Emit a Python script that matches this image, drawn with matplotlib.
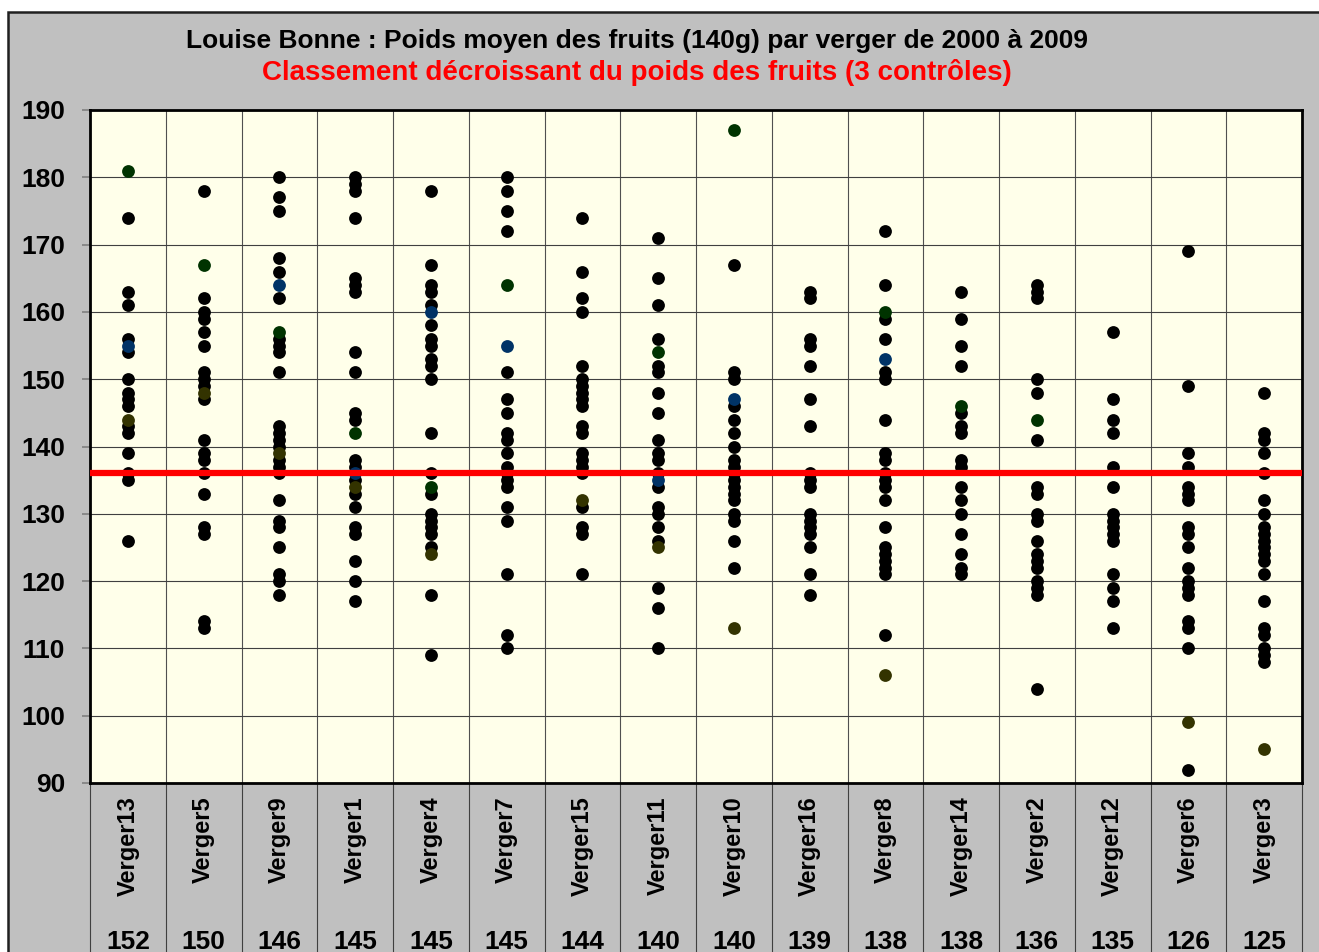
import matplotlib.pyplot as plt
from matplotlib.patches import Rectangle

plt.rcParams['font.family'] = ['Liberation Sans', 'DejaVu Sans']

vergers = ['Verger13', 'Verger5', 'Verger9', 'Verger1', 'Verger4', 'Verger7', 'Verger15', 'Verger11',
           'Verger10', 'Verger16', 'Verger8', 'Verger14', 'Verger2', 'Verger12', 'Verger6', 'Verger3']
moyennes = [152, 150, 146, 145, 145, 145, 144, 140, 140, 139, 138, 138, 136, 135, 126, 125]

# poids des autres années (points noirs)
poids = [
    [174, 163, 161, 156, 154, 150, 148, 147, 146, 143, 142, 139, 136, 135, 126],
    [178, 162, 160, 159, 157, 155, 151, 150, 149, 147, 141, 139, 138, 136, 133, 128, 127, 114, 113],
    [180, 177, 175, 168, 166, 162, 156, 155, 154, 151, 143, 142, 141, 140, 138, 137, 136, 132, 129, 128,
     125, 121, 120, 118],
    [180, 179, 178, 174, 165, 164, 163, 154, 151, 145, 144, 138, 137, 135, 133, 131, 128, 127, 123, 120, 117],
    [178, 167, 164, 163, 161, 158, 156, 155, 153, 152, 150, 142, 136, 133, 130, 129, 128, 127, 125, 118, 109],
    [180, 178, 175, 172, 151, 147, 145, 142, 141, 139, 137, 136, 135, 134, 131, 129, 121, 112, 110],
    [174, 166, 162, 160, 152, 150, 149, 148, 147, 146, 143, 142, 139, 138, 137, 136, 131, 128, 127, 121],
    [171, 165, 161, 156, 152, 151, 148, 145, 141, 139, 138, 136, 134, 131, 130, 128, 126, 119, 116, 110],
    [167, 151, 150, 146, 144, 142, 140, 138, 137, 136, 135, 134, 133, 132, 130, 129, 126, 122],
    [163, 162, 156, 155, 152, 147, 143, 136, 135, 134, 130, 129, 128, 127, 125, 121, 118],
    [172, 164, 159, 156, 151, 150, 144, 139, 138, 136, 135, 134, 132, 128, 125, 124, 123, 122, 121, 112],
    [163, 159, 155, 152, 145, 143, 142, 138, 137, 134, 132, 130, 127, 124, 122, 121],
    [164, 163, 162, 150, 148, 141, 134, 133, 130, 129, 126, 124, 123, 122, 120, 119, 118, 104],
    [157, 147, 144, 142, 137, 134, 130, 129, 128, 127, 126, 121, 119, 117, 113],
    [169, 149, 139, 137, 134, 133, 132, 128, 127, 125, 122, 120, 119, 118, 114, 113, 110, 92],
    [148, 142, 141, 139, 136, 132, 130, 128, 127, 126, 125, 124, 123, 121, 117, 113, 112, 110, 109, 108],
]

# dernière année, 3 contrôles (None = pas de mesure)
controle1 = [181, 167, 157, 142, 134, 164, None, 154, 187, None, 160, 146, 144, None, None, None]
controle2 = [155, None, 164, 136, 160, 155, None, 135, 147, None, 153, None, None, None, None, None]
controle3 = [144, 148, 139, 134, 124, None, 132, 125, 113, None, 106, None, None, None, 99, 95]

moyenne_generale = 136

fig = plt.figure(figsize=(13.19, 9.52), dpi=100, facecolor='white')
fig.patches.append(Rectangle((8 / 1319, -0.01), 1.02, 1 - 12 / 952 + 0.01, transform=fig.transFigure,
                             facecolor='#c0c0c0', edgecolor='#202020', linewidth=1.8, zorder=-10))

ax = fig.add_axes([90 / 1319, 1 - 783 / 952, (1302 - 90) / 1319, (783 - 110) / 952])
ax.set_facecolor('#ffffea')

xs = range(1, len(vergers) + 1)
for i, vals in zip(xs, poids):
    ax.scatter([i] * len(vals), vals, s=85, color='black', zorder=3, linewidths=0)
for serie, col in [(controle1, '#003300'), (controle2, '#003366'), (controle3, '#333300')]:
    px = [i for i, v in zip(xs, serie) if v is not None]
    py = [v for v in serie if v is not None]
    ax.scatter(px, py, s=85, color=col, zorder=4, linewidths=0)

ax.axhline(moyenne_generale, color='#ff0000', linewidth=4.5, zorder=5)

ax.set_xlim(0.5, len(vergers) + 0.5)
ax.set_ylim(90, 190)
ax.set_yticks(range(90, 191, 10))
ax.set_xticks([])
ax.set_xticks([k + 0.5 for k in range(0, len(vergers) + 1)], minor=True)
ax.grid(True, axis='y', color='#404040', linewidth=0.8, zorder=1)
ax.grid(True, axis='x', which='minor', color='#505050', linewidth=0.8, zorder=1)
ax.tick_params(axis='x', which='minor', length=0)
ax.tick_params(axis='y', length=6, width=1.2, color='#808080', labelsize=19, pad=12)
for lab in ax.get_yticklabels():
    lab.set_fontweight('bold')
for sp in ax.spines.values():
    sp.set_linewidth(2)

# separations et libellés sous le graphique
trans = ax.get_xaxis_transform()
for k in range(0, len(vergers) + 1):
    ax.plot([k + 0.5, k + 0.5], [0, -0.3], transform=trans, color='#404040', linewidth=0.8, clip_on=False)
for i, nom, moy in zip(xs, vergers, moyennes):
    ax.text(i, -0.02, nom, transform=trans, rotation=90, ha='center', va='top',
            fontsize=17, fontweight='bold')
    ax.text(i, -0.218, str(moy), transform=trans, ha='center', va='top',
            fontsize=19, fontweight='bold')

fig.text(637 / 1319, 1 - 41 / 952, 'Louise Bonne : Poids moyen des fruits (140g) par verger de 2000 à 2009',
         ha='center', va='center', fontsize=19, fontweight='bold')
fig.text(637 / 1319, 1 - 72 / 952, 'Classement décroissant du poids des fruits (3 contrôles)',
         ha='center', va='center', fontsize=20, fontweight='bold', color='#ff0000')

fig.savefig('out.png', dpi=100, facecolor=fig.get_facecolor())
